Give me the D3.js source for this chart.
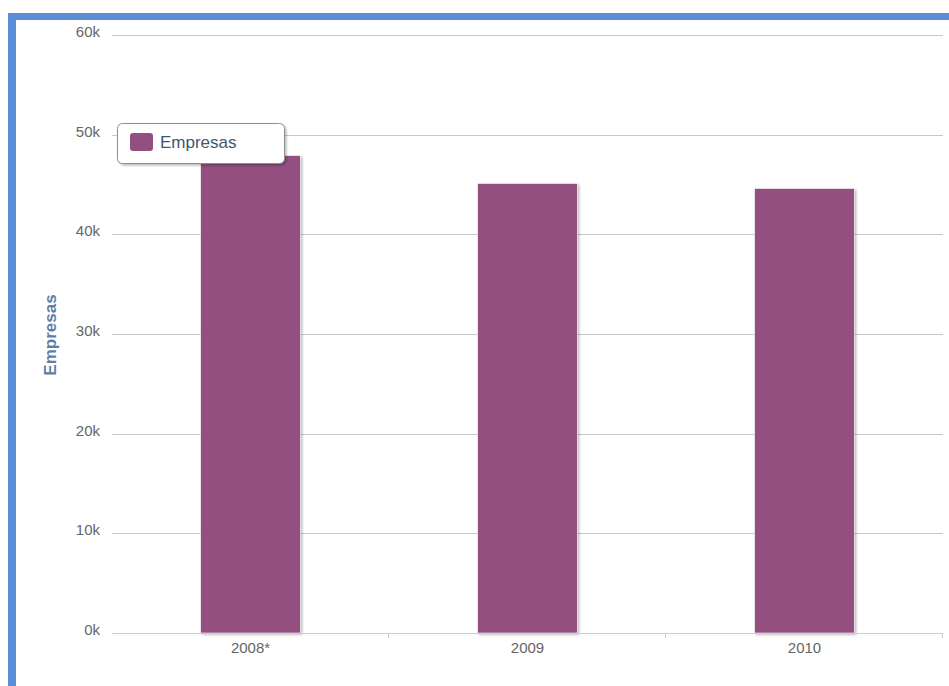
<!DOCTYPE html>
<html>
<head>
<meta charset="utf-8">
<script src="https://cdn.jsdelivr.net/npm/d3@7"></script>
<style>
  html, body { margin: 0; padding: 0; background: #fff; }
  svg { display: block; font-family: "Liberation Sans", Arial, sans-serif; }
</style>
</head>
<body>
<svg id="chart" width="949" height="686"></svg>
<script>
// Número de empresas por año
const categories = ["2008*", "2009", "2010"];
const empresas = [47900, 45100, 44600];
const yTicks = [0, 10000, 20000, 30000, 40000, 50000, 60000];
const yTickLabels = ["0k", "10k", "20k", "30k", "40k", "50k", "60k"];
const seriesName = "Empresas";

const svg = d3.select("#chart");
const W = 949, H = 686;
const plot = { left: 112, right: 943, top: 35, bottom: 633 };
const barColor = "#924f80";

// Drop shadow used by bars and legend
const defs = svg.append("defs");
const f = defs.append("filter").attr("id", "shadow")
  .attr("x", "-20%").attr("y", "-20%").attr("width", "140%").attr("height", "140%");
f.append("feDropShadow").attr("dx", 1.5).attr("dy", 1.5)
  .attr("stdDeviation", 1.3).attr("flood-color", "#000").attr("flood-opacity", 0.28);

// Frame: blue band along the top and left
svg.append("rect").attr("x", 8).attr("y", 13).attr("width", W - 8).attr("height", 7).attr("fill", "#5a8ed8");
svg.append("rect").attr("x", 8).attr("y", 13).attr("width", 8).attr("height", H - 13).attr("fill", "#5a8ed8");

const y = d3.scaleLinear().domain([0, 60000]).range([plot.bottom, plot.top]);
const x = d3.scaleBand().domain(categories).range([plot.left, plot.right])
  .paddingInner(0.64).paddingOuter(0.32);
const xCells = d3.scaleBand().domain(categories).range([plot.left, plot.right]).padding(0);

// Horizontal grid lines
svg.append("g").selectAll("line")
  .data(yTicks.filter(v => v > 0))
  .join("line")
  .attr("x1", plot.left).attr("x2", plot.right)
  .attr("y1", d => Math.round(y(d)) + 0.5).attr("y2", d => Math.round(y(d)) + 0.5)
  .attr("stroke", "#c8c8c8").attr("stroke-width", 1);

// Y axis labels
const yAxis = d3.axisLeft(y).tickValues(yTicks)
  .tickFormat((d, i) => yTickLabels[i]).tickSize(0).tickPadding(12);
const gy = svg.append("g").attr("transform", `translate(${plot.left},0)`).call(yAxis);
gy.select(".domain").remove();
gy.selectAll("text").attr("fill", "#666").attr("font-size", 15)
  .attr("font-family", "Liberation Sans, Arial, sans-serif").attr("dy", "0.1em");

// Y axis title
svg.append("text")
  .attr("transform", `translate(56,${(plot.top + plot.bottom) / 2 + 1}) rotate(-90)`)
  .attr("text-anchor", "middle")
  .attr("font-size", 17).attr("font-weight", "bold").attr("fill", "#5f7fa5")
  .text(seriesName);

// Bars
svg.append("g").selectAll("rect")
  .data(categories.map((c, i) => ({ c, v: empresas[i] })))
  .join("rect")
  .attr("x", d => x(d.c))
  .attr("y", d => y(d.v))
  .attr("width", x.bandwidth())
  .attr("height", d => y(0) - y(d.v))
  .attr("fill", barColor)
  .attr("stroke", "#fff").attr("stroke-width", 0.6)
  .attr("filter", "url(#shadow)");

// X axis line, cell ticks and labels
const axisColor = "#c0d0e0";
svg.append("line")
  .attr("x1", plot.left).attr("x2", plot.right)
  .attr("y1", plot.bottom + 0.5).attr("y2", plot.bottom + 0.5)
  .attr("stroke", axisColor).attr("stroke-width", 1);
const tickXs = categories.map(c => xCells(c)).concat([plot.right]);
svg.append("g").selectAll("line")
  .data(tickXs.slice(1))
  .join("line")
  .attr("x1", d => Math.round(d) - 0.5).attr("x2", d => Math.round(d) - 0.5)
  .attr("y1", plot.bottom).attr("y2", plot.bottom + 5)
  .attr("stroke", axisColor);
const xAxis = d3.axisBottom(x).tickSize(0).tickPadding(9);
const gx = svg.append("g").attr("transform", `translate(0,${plot.bottom})`).call(xAxis);
gx.select(".domain").remove();
gx.selectAll("text").attr("fill", "#666").attr("font-size", 15)
  .attr("font-family", "Liberation Sans, Arial, sans-serif");

// Legend
const lg = svg.append("g").attr("transform", "translate(117,123)");
lg.append("rect").attr("x", 0.5).attr("y", 0.5).attr("width", 167).attr("height", 40)
  .attr("rx", 5).attr("fill", "#fff").attr("stroke", "#8f8f8f").attr("stroke-width", 1)
  .attr("filter", "url(#shadow)");
lg.append("rect").attr("x", 13).attr("y", 10).attr("width", 23).attr("height", 18)
  .attr("rx", 3).attr("fill", barColor);
lg.append("text").attr("x", 43).attr("y", 25)
  .attr("font-size", 17).attr("fill", "#3e576f").text(seriesName);
</script>
</body>
</html>
